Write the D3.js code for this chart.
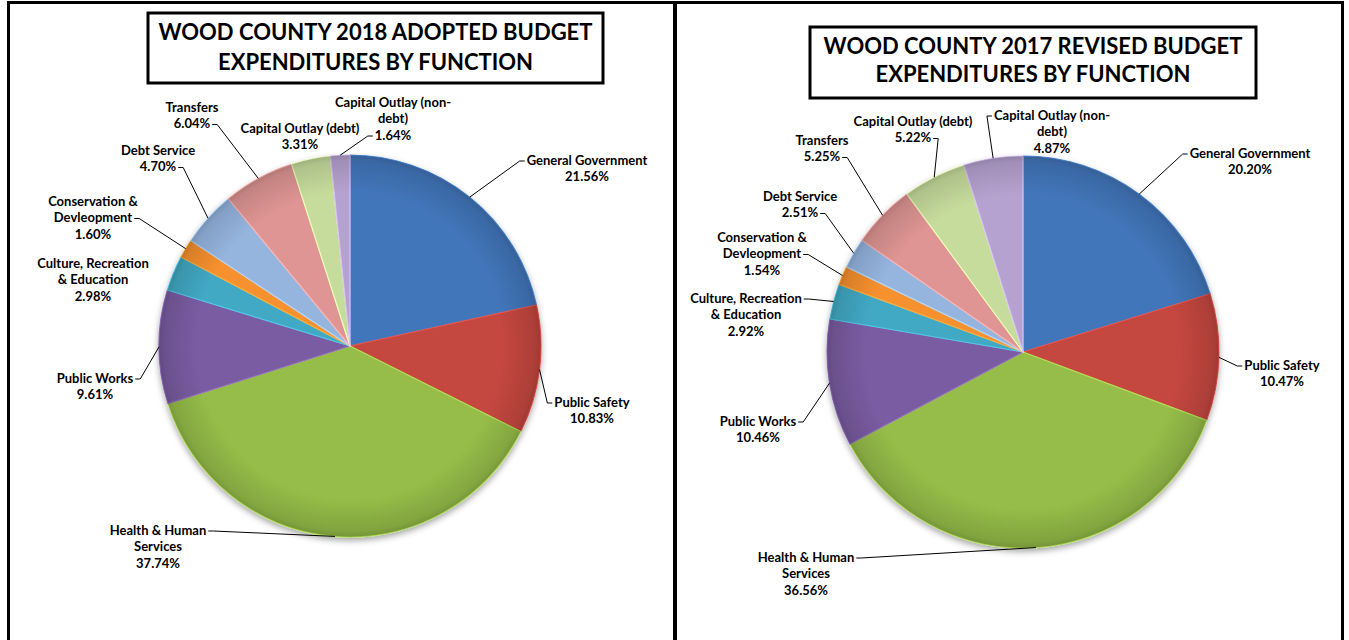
<!DOCTYPE html>
<html>
<head>
<meta charset="utf-8">
<script src="https://cdn.jsdelivr.net/npm/d3@7"></script>
<style>
  html, body { margin: 0; padding: 0; background: #fff; }
  svg { display: block; }
  text { font-family: Lato, "Open Sans", sans-serif; font-weight: 700; fill: #000; }
</style>
</head>
<body>
<svg id="chart" width="1349" height="640"></svg>
<script>
// ---------- DATA ----------
const categories = [
  "General Government", "Public Safety", "Health & Human Services", "Public Works",
  "Culture, Recreation & Education", "Conservation & Devleopment", "Debt Service",
  "Transfers", "Capital Outlay (debt)", "Capital Outlay (non-debt)"
];
const labelLines = [
  ["General Government"], ["Public Safety"], ["Health & Human", "Services"], ["Public Works"],
  ["Culture, Recreation", "& Education"], ["Conservation &", "Devleopment"], ["Debt Service"],
  ["Transfers"], ["Capital Outlay (debt)"], ["Capital Outlay (non-", "debt)"]
];
const values2018 = [21.56, 10.83, 37.74, 9.61, 2.98, 1.60, 4.70, 6.04, 3.31, 1.64];
const values2017 = [20.20, 10.47, 36.56, 10.46, 2.92, 1.54, 2.51, 5.25, 5.22, 4.87];
const title2018 = ["WOOD COUNTY 2018 ADOPTED BUDGET", "EXPENDITURES BY FUNCTION"];
const title2017 = ["WOOD COUNTY 2017 REVISED BUDGET", "EXPENDITURES BY FUNCTION"];
const sliceColors = [
  ["#4276bb", "#2b5588"], ["#c4463f", "#96292a"], ["#96bd48", "#72932f"], ["#7a5ba2", "#553b78"],
  ["#43a9c4", "#2a8299"], ["#f7902f", "#dc7018"], ["#95b5df", "#7092c2"], ["#de9593", "#c06d6b"],
  ["#c6dc9c", "#a3bd74"], ["#b6a2d0", "#927cae"]
];

// ---------- LAYOUT ----------
const charts = [
  {
    values: values2018, title: title2018,
    panel: { x: 8.5, y: 2.5, w: 666, h: 700 },
    titleBox: { x: 148, y: 13, w: 455, h: 70, line1: 32, line2: 62 },
    cx: 350, cy: 346, r: 191,
    labels: [
      { x: 587, y: 160, side: "left", line: 0 },
      { x: 592, y: 402, side: "left", line: 0 },
      { x: 158, y: 530, side: "right", line: 0 },
      { x: 95, y: 378, side: "right", line: 0 },
      { x: 93, y: 263, side: "none", line: 0 },
      { x: 93, y: 201, side: "right", line: 1 },
      { x: 158, y: 150, side: "right", line: 1 },
      { x: 192, y: 107, side: "right", line: 1 },
      { x: 300, y: 128, side: "none", line: 0 },
      { x: 393, y: 102, side: "left", line: 2 }
    ]
  },
  {
    values: values2017, title: title2017,
    panel: { x: 675.5, y: 2.5, w: 667, h: 700 },
    titleBox: { x: 810, y: 27, w: 446, h: 71, line1: 46, line2: 74 },
    cx: 1023, cy: 352, r: 196,
    labels: [
      { x: 1250, y: 153, side: "left", line: 0 },
      { x: 1282, y: 365, side: "left", line: 0 },
      { x: 806, y: 557, side: "right", line: 0 },
      { x: 758, y: 421, side: "right", line: 0 },
      { x: 746, y: 298, side: "right", line: 0 },
      { x: 762, y: 237, side: "right", line: 1 },
      { x: 800, y: 196, side: "right", line: 1 },
      { x: 822, y: 140, side: "right", line: 1 },
      { x: 913, y: 121, side: "right", line: 1 },
      { x: 1052, y: 115, side: "left", line: 0 }
    ]
  }
];

const svg = d3.select("#chart");
const defs = svg.append("defs");
const shadow = defs.append("filter").attr("id", "pieShadow")
  .attr("x", "-10%").attr("y", "-10%").attr("width", "120%").attr("height", "125%");
shadow.append("feDropShadow").attr("dx", 0).attr("dy", 3).attr("stdDeviation", 3)
  .attr("flood-color", "#000").attr("flood-opacity", 0.35);
const edge = defs.append("radialGradient").attr("id", "edgeShade");
edge.append("stop").attr("offset", "80%").attr("stop-color", "#000").attr("stop-opacity", 0);
edge.append("stop").attr("offset", "97%").attr("stop-color", "#000").attr("stop-opacity", 0.12);
edge.append("stop").attr("offset", "100%").attr("stop-color", "#000").attr("stop-opacity", 0.2);

const fmt = d3.format(".2f");
const lineH = 16.5;

charts.forEach((c, ci) => {
  // panel border
  svg.append("rect").attr("x", c.panel.x).attr("y", c.panel.y)
    .attr("width", c.panel.w).attr("height", c.panel.h)
    .attr("fill", "none").attr("stroke", "#000").attr("stroke-width", 3);

  // title box
  const tb = c.titleBox;
  svg.append("rect").attr("x", tb.x).attr("y", tb.y).attr("width", tb.w).attr("height", tb.h)
    .attr("fill", "#fff").attr("stroke", "#000").attr("stroke-width", 3);
  [tb.line1, tb.line2].forEach((ly, i) => {
    svg.append("text").attr("x", tb.x + tb.w / 2).attr("y", ly).attr("dy", "0.35em")
      .attr("text-anchor", "middle").style("font-size", "22px")
      .text(c.title[i]);
  });

  // gradients
  sliceColors.forEach((col, i) => {
    const g = defs.append("linearGradient").attr("id", `grad${ci}_${i}`)
      .attr("gradientUnits", "userSpaceOnUse")
      .attr("x1", c.cx).attr("y1", c.cy - c.r).attr("x2", c.cx).attr("y2", c.cy + c.r);
    g.append("stop").attr("offset", "0%").attr("stop-color", col[0]);
    g.append("stop").attr("offset", "100%").attr("stop-color", col[1]);
  });

  const pie = d3.pie().sort(null).value(d => d)(c.values);
  const arc = d3.arc().innerRadius(0).outerRadius(c.r);

  const g = svg.append("g").attr("transform", `translate(${c.cx},${c.cy})`);
  const gp = g.append("g").attr("filter", "url(#pieShadow)");
  gp.selectAll("path").data(pie).join("path")
    .attr("d", arc)
    .attr("fill", (d, i) => `url(#grad${ci}_${i})`)
    .attr("stroke", (d, i) => d3.color(sliceColors[i][0]).brighter(0.5))
    .attr("stroke-width", 1.2)
    .attr("stroke-linejoin", "round");
  g.append("circle").attr("r", c.r).attr("fill", "url(#edgeShade)").attr("pointer-events", "none");

  // labels + leaders
  pie.forEach((d, i) => {
    const L = c.labels[i];
    const lines = labelLines[i].concat([fmt(c.values[i]) + "%"]);
    const texts = lines.map((t, k) => svg.append("text")
      .attr("x", L.x).attr("y", L.y + k * lineH).attr("dy", "0.35em")
      .attr("text-anchor", "middle").style("font-size", "13px").text(t));
    if (L.side !== "none") {
      const w = texts[L.line].node().getComputedTextLength();
      const ly = L.y + L.line * lineH + 1;
      const sx = L.side === "left" ? L.x - w / 2 - 2 : L.x + w / 2 + 2;
      const tx = L.side === "left" ? sx - 5 : sx + 5;
      const mid = (d.startAngle + d.endAngle) / 2;
      const px = c.cx + c.r * Math.sin(mid);
      const py = c.cy - c.r * Math.cos(mid);
      svg.append("path")
        .attr("d", d3.line()([[sx, ly], [tx, ly], [px, py]]))
        .attr("fill", "none").attr("stroke", "#000").attr("stroke-width", 1);
    }
  });
});
</script>
</body>
</html>
